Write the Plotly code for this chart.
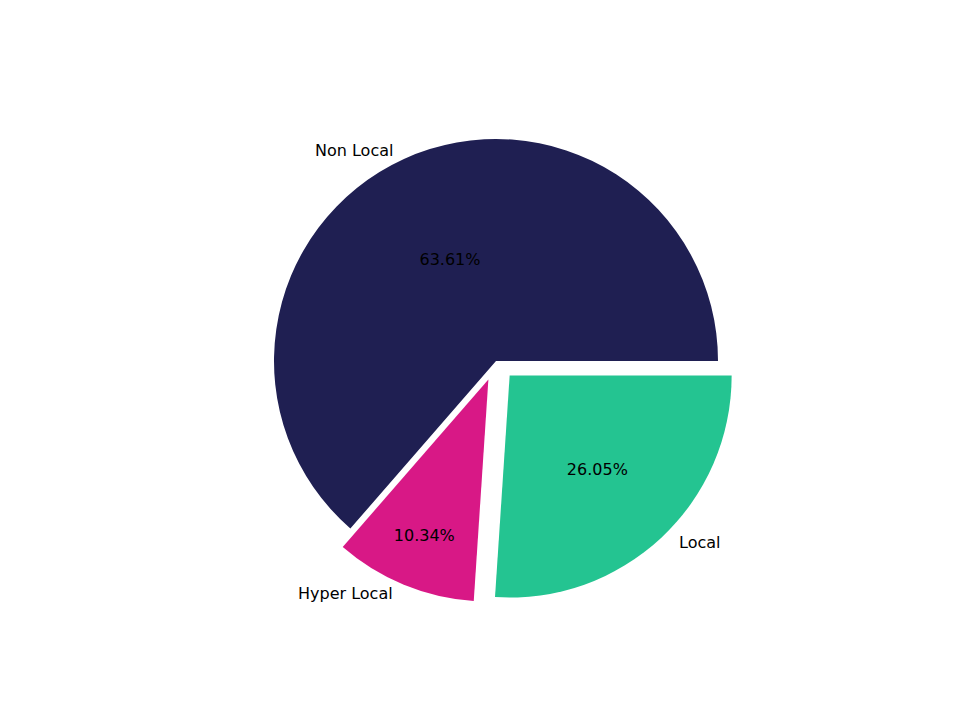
import numpy as np
import plotly.graph_objects as go

labels = ["Non Local", "Hyper Local", "Local"]
values = [63.61, 10.34, 26.05]
colors = ["#1f1f52", "#d81886", "#24c491"]
pulls = [0, 0.09, 0.09]

W, H = 960, 720
cx, cy, R = 488, 353, 222  # pixel centre / radius of the pie

# matplotlib draws counterclockwise from 3 o'clock; equivalently draw the
# reversed order clockwise from 3 o'clock
fig = go.Figure(go.Pie(
    labels=labels[::-1], values=values[::-1], sort=False, direction="clockwise",
    rotation=90, pull=pulls[::-1], marker=dict(colors=colors[::-1], line=dict(width=0)),
    texttemplate="%{percent:.2%}", textposition="inside", insidetextorientation="horizontal",
    textfont=dict(color="black", size=16, family="DejaVu Sans"),
    domain=dict(x=[(cx - R*1.09)/W, (cx + R*1.09)/W], y=[1-(cy + R*1.09)/H, 1-(cy - R*1.09)/H]),
    showlegend=False, hoverinfo="label+percent"))

tot = sum(values)
start = 0.0
for lab, v, p in zip(labels, values, pulls):
    mid = np.deg2rad((start + v/2) / tot * 360)
    r = R * (1.1 + p)
    fig.add_annotation(x=(cx + r*np.cos(mid))/W, y=1-(cy - r*np.sin(mid))/H,
                       xref="paper", yref="paper", text=lab, showarrow=False,
                       font=dict(size=16, color="black", family="DejaVu Sans"),
                       xanchor="right" if np.cos(mid) < 0 else "left")
    start += v

fig.update_layout(width=W, height=H, margin=dict(l=0, r=0, t=0, b=0),
                  paper_bgcolor="white", plot_bgcolor="white")
fig.write_html("out.html")
